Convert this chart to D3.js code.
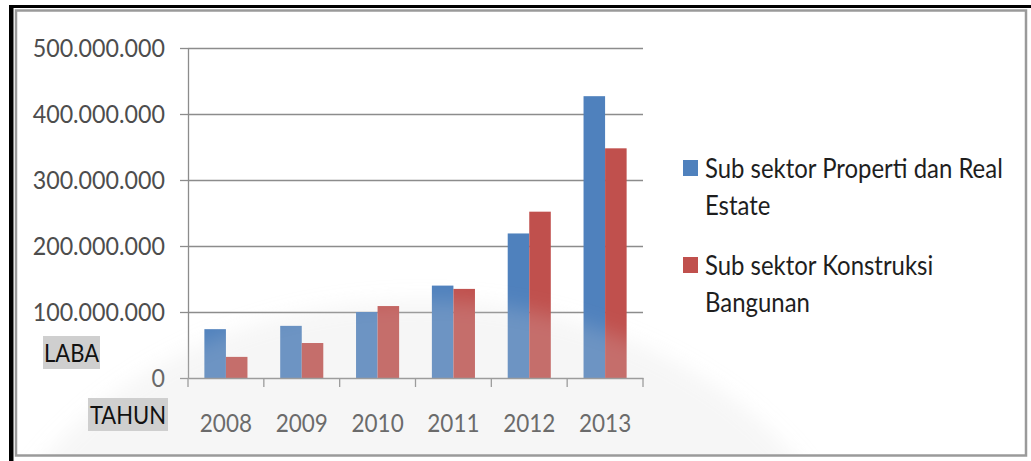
<!DOCTYPE html>
<html>
<head>
<meta charset="utf-8">
<script src="https://cdn.jsdelivr.net/npm/d3@7.9.0/dist/d3.min.js"></script>
<style>
  html, body { margin: 0; padding: 0; background: #fff; }
  svg { display: block; }
  text { font-family: Lato, 'Open Sans', sans-serif; }
</style>
</head>
<body>
<div id="chart"></div>
<script>
// data (LABA, in rupiah)
const years = ['2008', '2009', '2010', '2011', '2012', '2013'];
const seriesNames = ['Sub sektor Properti dan Real Estate', 'Sub sektor Konstruksi Bangunan'];
const properti = [74e6, 79e6, 100e6, 140e6, 219e6, 427e6];
const konstruksi = [32e6, 53e6, 109e6, 135e6, 252e6, 348e6];
const yTicks = [0, 100e6, 200e6, 300e6, 400e6, 500e6];
const legendLines = [['Sub sektor Properti dan Real', 'Estate'], ['Sub sektor Konstruksi', 'Bangunan']];
const colors = ['#4f81bd', '#c0504d'];

const width = 1031;
const height = 461;
const plot = { left: 188, right: 643, top: 48, bottom: 378 };

const svg = d3.select('#chart').append('svg')
  .attr('width', width)
  .attr('height', height);

// squeeze Lato to a Calibri-like width
function condense(sel, k) {
  sel.each(function () {
    const w = this.getComputedTextLength();
    d3.select(this).attr('textLength', w * k).attr('lengthAdjust', 'spacingAndGlyphs');
  });
}

const rows = years.map((year, i) => ({ year, values: [properti[i], konstruksi[i]] }));

const x0 = d3.scaleBand().domain(years).range([plot.left, plot.right]);
const x1 = d3.scaleBand().domain([0, 1]).range([0, x0.bandwidth()]).paddingOuter(0.76);
const y = d3.scaleLinear().domain([0, 500e6]).range([plot.bottom, plot.top]);
const fmt = (d) => d3.format(',')(d).replace(/,/g, '.');

// gridlines
svg.append('g')
  .attr('transform', `translate(${plot.left},0)`)
  .call(d3.axisLeft(y).tickValues(yTicks.slice(1)).tickFormat('').tickSize(-(plot.right - plot.left)).tickSizeOuter(0))
  .call((g) => g.select('.domain').remove())
  .call((g) => g.selectAll('line').attr('stroke', '#8c8c8c').attr('stroke-width', 1.3));

// y axis
const yAxis = svg.append('g')
  .attr('transform', `translate(${plot.left},0)`)
  .call(d3.axisLeft(y).tickValues(yTicks).tickFormat(fmt).tickSize(8).tickSizeOuter(0).tickPadding(15));
yAxis.select('.domain').attr('stroke', '#8c8c8c').attr('stroke-width', 1.3);
yAxis.selectAll('line').attr('stroke', '#8c8c8c').attr('stroke-width', 1.3);
yAxis.selectAll('text')
  .attr('font-size', 25)
  .attr('fill', '#4d4d4d')
  .attr('dy', '0.35em')
  .call(condense, 0.93);

// bars
svg.append('g').selectAll('g')
  .data(rows)
  .join('g')
  .attr('transform', (d) => `translate(${x0(d.year)},0)`)
  .selectAll('rect')
  .data((d) => d.values.map((v, k) => ({ v, k })))
  .join('rect')
  .attr('x', (d) => x1(d.k))
  .attr('width', x1.bandwidth())
  .attr('y', (d) => y(d.v))
  .attr('height', (d) => y(0) - y(d.v))
  .attr('fill', (d) => colors[d.k]);

// x axis
const xAxis = svg.append('g')
  .attr('transform', `translate(0,${plot.bottom})`)
  .call(d3.axisBottom(x0).tickSize(0).tickPadding(0));
xAxis.select('.domain').attr('stroke', '#8c8c8c').attr('stroke-width', 1.3);
xAxis.selectAll('text')
  .attr('font-size', 25)
  .attr('fill', '#4d4d4d')
  .attr('dy', 0)
  .attr('y', 54)
  .call(condense, 0.9);
// category separators
svg.append('g').selectAll('line')
  .data(years.concat(['end']))
  .join('line')
  .attr('x1', (d, i) => i < years.length ? x0(d) : plot.right)
  .attr('x2', (d, i) => i < years.length ? x0(d) : plot.right)
  .attr('y1', plot.bottom)
  .attr('y2', plot.bottom + 9)
  .attr('stroke', '#8c8c8c')
  .attr('stroke-width', 1.3);

// legend
const legend = svg.append('g');
legendLines.forEach((lines, k) => {
  const top = 160 + k * 97;
  legend.append('rect')
    .attr('x', 683).attr('y', top)
    .attr('width', 15).attr('height', 16)
    .attr('fill', colors[k]);
  lines.forEach((t, j) => {
    legend.append('text')
      .attr('x', 705)
      .attr('y', top + 18 + j * 37)
      .attr('font-size', 26)
      .attr('fill', '#1e1e1e')
      .text(t)
      .call(condense, 0.92);
  });
});

// watermark haze, soft edged
const defs = svg.append('defs');
defs.append('clipPath').attr('id', 'inner')
  .append('rect').attr('x', 16).attr('y', 11).attr('width', 1010).attr('height', 445);
defs.append('filter').attr('id', 'soft').attr('x', '-20%').attr('y', '-20%').attr('width', '140%').attr('height', '140%')
  .append('feGaussianBlur').attr('stdDeviation', 10);
svg.append('g').attr('clip-path', 'url(#inner)')
  .append('ellipse')
  .attr('filter', 'url(#soft)')
  .attr('cx', 420).attr('cy', 650).attr('rx', 450).attr('ry', 350)
  .attr('fill', '#d6d6d6').attr('fill-opacity', 0.22);

// LABA / TAHUN tags
const tags = [
  { label: 'LABA', x: 43, y: 336, w: 57, h: 33 },
  { label: 'TAHUN', x: 88, y: 398, w: 80, h: 33 },
];
tags.forEach((t) => {
  svg.append('rect').attr('x', t.x).attr('y', t.y).attr('width', t.w).attr('height', t.h).attr('fill', '#cfcfcf');
  svg.append('text')
    .attr('x', t.x + t.w / 2).attr('y', t.y + t.h / 2)
    .attr('dy', '0.36em')
    .attr('text-anchor', 'middle')
    .attr('font-size', 25)
    .attr('fill', '#111')
    .text(t.label)
    .call(condense, 0.88);
});

// frame
svg.append('rect').attr('x', 16).attr('y', 10.5).attr('width', 1010).attr('height', 445)
  .attr('fill', 'none').attr('stroke', '#9a9a9a').attr('stroke-width', 2.5);
svg.append('rect').attr('x', 9).attr('y', 5).attr('width', width - 9).attr('height', 3).attr('fill', '#000');
svg.append('rect').attr('x', 9).attr('y', 5).attr('width', 4.5).attr('height', height - 5).attr('fill', '#000');
</script>
</body>
</html>
